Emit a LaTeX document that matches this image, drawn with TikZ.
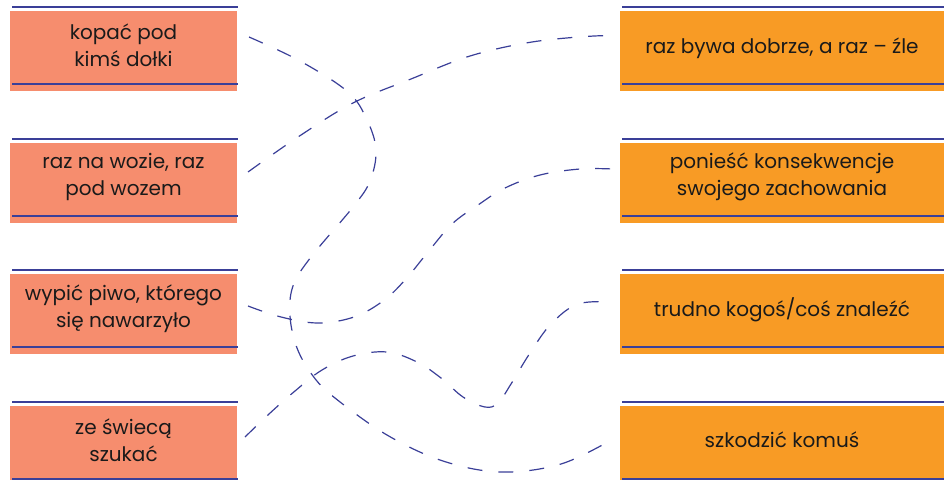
\documentclass[tikz,border=0pt]{standalone}
\usepackage{fontspec}
\setmainfont{Poppins}
\definecolor{lboxc}{HTML}{F68D6E}
\definecolor{rboxc}{HTML}{F89B25}
\definecolor{navy}{HTML}{3A3F98}
\definecolor{ink}{HTML}{1A1A1A}
\begin{document}
\begin{tikzpicture}[x=1pt,y=-1pt,
  lboxs/.style={fill=lboxc, draw=none, minimum width=227pt, minimum height=80pt, inner sep=0pt, outer sep=0pt},
  rboxs/.style={fill=rboxc, draw=none, minimum width=324pt, minimum height=80pt, inner sep=0pt, outer sep=0pt},
  txt/.style={text=ink, align=center, inner sep=0pt, font=\fontsize{20}{27}\selectfont},
  rulel/.style={draw=navy, line width=1.3pt},
  conn/.style={draw=navy, line width=1.2pt, dash pattern=on 15pt off 16pt}]
\useasboundingbox (0,0) rectangle (944,479);
% left boxes
\node[lboxs] (L1) at (123.5,51) {};
\node[lboxs] (L2) at (123.5,183) {};
\node[lboxs] (L3) at (123.5,314) {};
\node[lboxs] (L4) at (123.5,446) {};
% right boxes
\node[rboxs] (R1) at (782,51) {};
\node[rboxs] (R2) at (782,183) {};
\node[rboxs] (R3) at (782,314) {};
\node[rboxs] (R4) at (782,446) {};
% rules
\foreach \b in {L1,L2,L3,L4}{
  \draw[rulel] ([shift={(2,-4)}]\b.north west) -- ([shift={(1,-4)}]\b.north east);
  \draw[rulel] ([shift={(2,-7)}]\b.south west) -- ([shift={(1,-7)}]\b.south east);
}
\foreach \b in {R1,R2,R3,R4}{
  \draw[rulel] ([shift={(2,-4)}]\b.north west) -- ([shift={(0,-4)}]\b.north east);
  \draw[rulel] ([shift={(2,-7)}]\b.south west) -- ([shift={(0,-7)}]\b.south east);
}
% texts
\node[txt] (tL1) at (123.5,45) {kopać pod\\kimś dołki};
\node[txt] (tL2) at (123.5,177) {raz na wozie, raz\\pod wozem};
\node[txt] (tL3) at (123.5,309) {wypić piwo, którego\\się nawarzyło};
\node[txt] (tL4) at (123.5,440) {ze świecą\\szukać};
\node[txt] (tR1) at (782,48) {raz bywa dobrze, a raz – źle};
\node[txt] (tR2) at (782,177) {ponieść konsekwencje\\swojego zachowania};
\node[txt] (tR3) at (782,310) {trudno kogoś/coś znaleźć};
\node[txt] (tR4) at (782,440) {szkodzić komuś};
% connector ends
\coordinate (a1) at (249,37);
\coordinate (a2) at (613,439);
\coordinate (b1) at (248,172);
\coordinate (b2) at (613,37);
\coordinate (c1) at (248,306);
\coordinate (c2) at (613,169);
\coordinate (d1) at (245,437);
\coordinate (d2) at (613,302);
% connectors
\draw[conn] plot[smooth, tension=0.6] coordinates {(a1) (300,61) (348,92) (367,120) (376,150) (370,181) (353,207) (311,257) (293,286) (290,316) (297,348) (313,376) (335,398) (387,435) (443,461) (501,472) (561,464) (a2)};
\draw[conn] plot[smooth, tension=0.6] coordinates {(b1) (298,137) (353,103) (411,79) (470,56) (532,42) (594,36) (b2)};
\draw[conn] plot[smooth, tension=0.6] coordinates {(c1) (281,317) (318,323) (354,317) (383,301) (405,280) (428,252) (452,224) (478,205) (505,188) (540,175) (580,169) (c2)};
\draw[conn] plot[smooth, tension=0.6] coordinates {(d1) (269,414) (295,391) (322,370) (353,356) (387,352) (417,362) (441,378) (463,397) (485,407) (498,403) (511,384) (530,353) (551,324) (578,304) (d2)};
\end{tikzpicture}
\end{document}
